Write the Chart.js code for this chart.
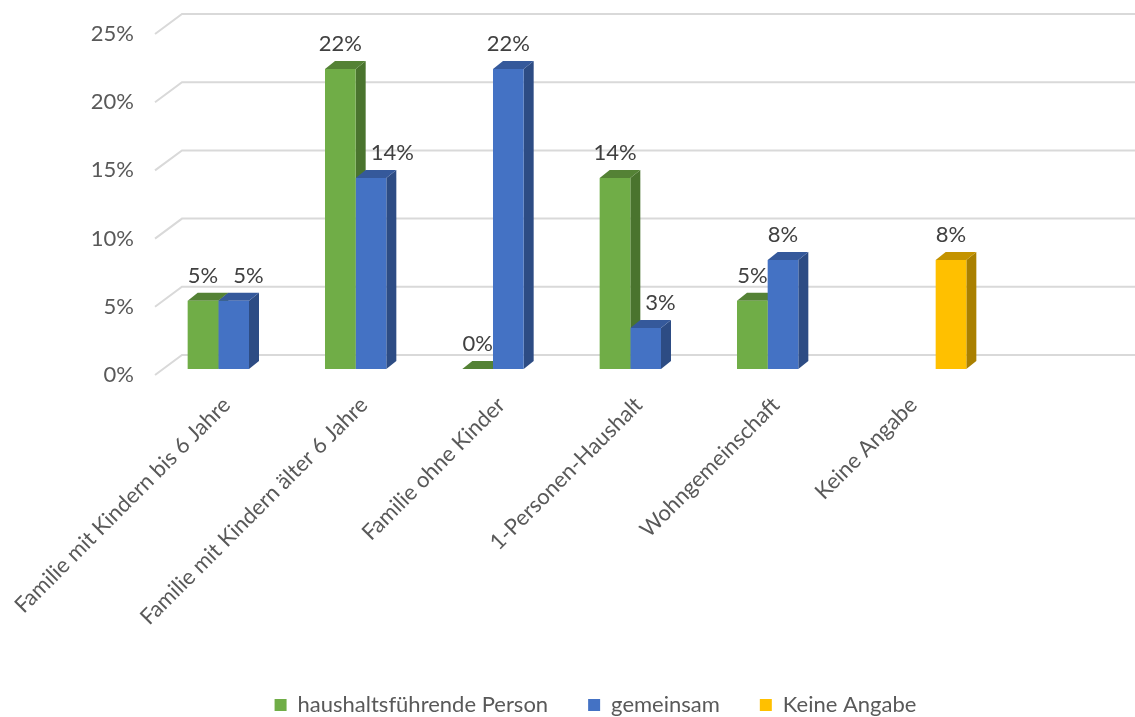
<!DOCTYPE html>
<html>
<head>
<meta charset="utf-8">
<script src="https://cdn.jsdelivr.net/npm/chart.js@4/dist/chart.umd.min.js"></script>
<style>
  html, body { margin: 0; padding: 0; background: #fff; }
  #wrap { width: 1135px; height: 717px; }
</style>
</head>
<body>
<div id="wrap"><canvas id="stage"></canvas></div>
<script>
// Haushaltsformen
const categories = [
  'Familie mit Kindern bis 6 Jahre',
  'Familie mit Kindern älter 6 Jahre',
  'Familie ohne Kinder',
  '1-Personen-Haushalt',
  'Wohngemeinschaft',
  'Keine Angabe'
];
const seriesNames = ['haushaltsführende Person', 'gemeinsam', 'Keine Angabe'];
const haushaltsfuehrend = [5, 22, 0, 14, 5, null];
const gemeinsam = [5, 14, 22, 3, 8, null];
const keineAngabe = [null, null, null, null, null, 8];
const yTicks = [0, 5, 10, 15, 20, 25];

// Farben: Vorderseite, Seite, Deckel
const faceColors = ['#70AD47', '#4472C4', '#FFC000'];
const sideColors = ['#4A742E', '#2D4C84', '#AA8000'];
const topColors  = ['#548235', '#35599B', '#C49300'];

const FONT = 'Lato, "Open Sans", sans-serif';
const FS = 22;
const DEPTH_X = 10, DEPTH_Y = 8;      // Tiefe der Säulen
const WALL_X = 27, WALL_FRONT = 6, WALL_BACK = -14; // Rückwand-Raster
const LABEL_UP = 25;

// Raster, Seiten- und Deckflächen der Säulen
const bars3d = {
  id: 'bars3d',
  beforeDatasetsDraw(chart) {
    const ctx = chart.ctx;
    const y = chart.scales.y;
    const left = chart.chartArea.left - 10;
    ctx.save();
    ctx.strokeStyle = '#D9D9D9';
    ctx.lineWidth = 2;
    yTicks.forEach(v => {
      const py = y.getPixelForValue(v);
      ctx.beginPath();
      ctx.moveTo(left, py + WALL_FRONT);
      ctx.lineTo(left + WALL_X, py + WALL_BACK);
      ctx.lineTo(chart.width, py + WALL_BACK);
      ctx.stroke();
    });

    const metas = chart.data.datasets.map((d, i) => chart.getDatasetMeta(i));
    for (let c = 0; c < categories.length; c++) {
      metas.forEach((meta, di) => {
        const val = chart.data.datasets[di].data[c];
        if (val === null || val === undefined) return;
        const bar = meta.data[c];
        const l = bar.x - bar.width / 2, r = bar.x + bar.width / 2;
        const top = bar.y, base = bar.base;
        // Seite
        ctx.fillStyle = sideColors[di];
        ctx.beginPath();
        ctx.moveTo(r, top);
        ctx.lineTo(r + DEPTH_X, top - DEPTH_Y);
        ctx.lineTo(r + DEPTH_X, base - DEPTH_Y);
        ctx.lineTo(r, base);
        ctx.closePath();
        ctx.fill();
        // Deckel
        ctx.fillStyle = topColors[di];
        ctx.beginPath();
        ctx.moveTo(l, top);
        ctx.lineTo(l + DEPTH_X, top - DEPTH_Y);
        ctx.lineTo(r + DEPTH_X, top - DEPTH_Y);
        ctx.lineTo(r, top);
        ctx.closePath();
        ctx.fill();
      });
    }
    ctx.restore();
  },
  // Datenbeschriftungen; bei Überschneidung mit der linken Nachbarsäule nach rechts schieben
  afterDatasetsDraw(chart) {
    const ctx = chart.ctx;
    ctx.save();
    ctx.fillStyle = '#404040';
    ctx.font = FS + 'px ' + FONT;
    ctx.textAlign = 'center';
    ctx.textBaseline = 'middle';
    const ds = chart.data.datasets;
    for (let c = 0; c < categories.length; c++) {
      let prev = null;
      ds.forEach((d, di) => {
        const v = d.data[c];
        if (v === null) return;
        const bar = chart.getDatasetMeta(di).data[c];
        const txt = v + '%';
        const w = ctx.measureText(txt).width;
        let cx = bar.x;
        const cy = bar.y - LABEL_UP;
        if (prev) {
          const barHit = prev.top - DEPTH_Y < cy + FS / 2;
          const labelHit = Math.abs(prev.cy - cy) < FS && prev.right + 6 > cx - w / 2;
          if (barHit || labelHit) cx = Math.max(cx, prev.barRight + DEPTH_X + 5 + w / 2);
        }
        ctx.fillText(txt, cx, cy);
        prev = { top: bar.y, barRight: bar.x + bar.width / 2, cy: cy, right: cx + w / 2 };
      });
    }
    ctx.restore();
  }
};

const mydata = {
  labels: categories,
  datasets: [
    { label: seriesNames[0], data: haushaltsfuehrend, backgroundColor: faceColors[0] },
    { label: seriesNames[1], data: gemeinsam, backgroundColor: faceColors[1] },
    { label: seriesNames[2], data: keineAngabe, backgroundColor: faceColors[2] }
  ]
};

const options = {
  responsive: true,
  maintainAspectRatio: false,
  animation: false,
  layout: { padding: { top: 28, right: 0, bottom: -9, left: 56 } },
  datasets: { bar: { categoryPercentage: 0.67, barPercentage: 1.0 } },
  plugins: {
    legend: {
      position: 'bottom',
      labels: {
        color: '#595959',
        font: { family: FONT, size: FS },
        boxWidth: 12,
        boxHeight: 12,
        padding: 40
      }
    },
    tooltip: { enabled: false }
  },
  scales: {
    x: {
      grid: { display: false },
      border: { display: false },
      ticks: {
        color: '#595959',
        font: { family: FONT, size: FS },
        maxRotation: 45,
        minRotation: 45,
        autoSkip: false,
        padding: 15,
        labelOffset: -7
      },
      afterFit(s) {
        s.height = 285;
        s.paddingLeft = 0;
        s.paddingRight = 146;
        s.paddingTop = 0;
        s.paddingBottom = 0;
      }
    },
    y: {
      min: 0,
      max: 25,
      grid: { display: false, drawTicks: false },
      border: { display: false },
      afterFit(s) {
        s.width = 109;
        s.paddingTop = 0;
        s.paddingBottom = 0;
        s.paddingLeft = 0;
        s.paddingRight = 0;
      },
      afterBuildTicks(s) { s.ticks = yTicks.map(v => ({ value: v })); },
      ticks: {
        color: '#595959',
        font: { family: FONT, size: FS },
        padding: 31,
        labelOffset: 6,
        callback: v => v + '%'
      }
    }
  }
};

const canvas = document.getElementById('stage');
const chart = new Chart(canvas, {
  type: 'bar',
  data: mydata,
  options: options,
  plugins: [bars3d]
});
</script>
</body>
</html>
